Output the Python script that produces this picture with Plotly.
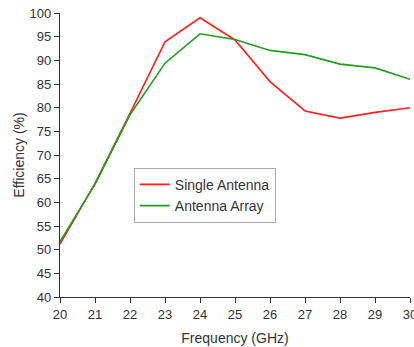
import plotly.graph_objects as go

freq = [20, 21, 22, 23, 24, 25, 26, 27, 28, 29, 30]
single_antenna = [51.2, 64.0, 78.8, 93.9, 99.0, 94.3, 85.5, 79.3, 77.8, 79.0, 80.0]
antenna_array = [51.7, 63.8, 78.5, 89.4, 95.6, 94.4, 92.1, 91.2, 89.2, 88.4, 86.0]

x_ticks = list(range(20, 31))
y_ticks = list(range(40, 101, 5))

fig = go.Figure()
fig.add_trace(go.Scatter(x=freq, y=single_antenna, mode="lines", name="Single Antenna",
                         line=dict(color="#ff2020", width=1.6)))
fig.add_trace(go.Scatter(x=freq, y=antenna_array, mode="lines", name="Antenna Array",
                         line=dict(color="#1f9e1f", width=1.6)))

axis_common = dict(showgrid=False, zeroline=False, showline=True, linecolor="#333333", linewidth=1.2,
                   ticks="outside", ticklen=5, tickwidth=1.2, tickcolor="#333333",
                   tickfont=dict(family="Liberation Sans, Arial", size=13, color="#333333"),
                   mirror=False, ticklabeloverflow="allow", automargin=False)

fig.update_layout(
    width=414, height=347,
    margin=dict(l=60, r=4, t=13, b=50),
    paper_bgcolor="white", plot_bgcolor="white",
    font=dict(family="Liberation Sans, Arial", color="#333333"),
    xaxis=dict(range=[20, 30], tickvals=x_ticks,
               title=dict(text="Frequency (GHz)", font=dict(size=14, color="#333333"), standoff=12),
               **axis_common),
    yaxis=dict(range=[40, 100], tickvals=y_ticks,
               title=dict(text="Efficiency (%)", font=dict(size=14, color="#333333"), standoff=1),
               **axis_common),
    legend=dict(x=0.211, y=0.455, xanchor="left", yanchor="top",
                bordercolor="#aaaaaa", borderwidth=1, bgcolor="white",
                font=dict(family="Liberation Sans, Arial", size=14, color="#333333"),
                tracegroupgap=0, itemwidth=30),
    showlegend=True,
)

fig.write_html("out.html")
